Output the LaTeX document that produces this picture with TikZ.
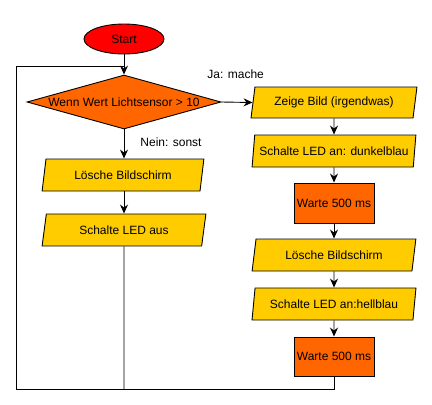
\documentclass[tikz,border=0pt]{standalone}
\usepackage{fontspec}
\setmainfont{Liberation Sans}
\usetikzlibrary{shapes.geometric,arrows.meta}
\definecolor{ioyel}{HTML}{FFCC00}
\definecolor{orng}{HTML}{FF6600}
\definecolor{startred}{HTML}{FF0000}
\begin{document}
\begin{tikzpicture}[x=1pt,y=-1pt,
  font=\fontsize{12}{14}\selectfont,
  line width=0.9pt,
  arr/.style={-{Stealth[length=9pt,width=8pt,inset=3pt]}},
  iobox/.style={trapezium, trapezium left angle=77, trapezium right angle=103,
    trapezium stretches=true, draw, fill=ioyel, minimum width=164, minimum height=32, inner sep=1pt},
  waitbox/.style={rectangle, draw, fill=orng, minimum width=80, minimum height=40, inner sep=1pt},
  decbox/.style={diamond, draw, fill=orng, aspect=3.6, minimum width=194, minimum height=54, inner sep=1pt},
  lbl/.style={anchor=west, inner sep=0pt}
]
\useasboundingbox (0,0) rectangle (432,405);
\node[ellipse, draw, fill=startred, minimum width=80, minimum height=30, inner sep=0pt] (start) at (124,39) {Start};
\node[decbox] (dec) at (124,102) {Wenn Wert Lichtsensor > 10};
\node[iobox, minimum width=162] (lbl1) at (123,175) {Lösche Bildschirm};
\node[iobox, minimum width=165] (aus) at (124,230) {Schalte LED aus};
\node[iobox, minimum width=166, minimum height=31] (zeige) at (334,102.5) {Zeige Bild (irgendwas)};
\node[iobox] (dunkel) at (334,151) {Schalte LED an: dunkelblau};
\node[waitbox] (w1) at (334,203) {Warte 500 ms};
\node[iobox] (lbl2) at (334,255) {Lösche Bildschirm};
\node[iobox] (hell) at (334,304) {Schalte LED an:hellblau};
\node[waitbox, minimum height=39] (w2) at (334,356.5) {Warte 500 ms};

\node[lbl] (ja) at (207,74) {Ja: mache};
\node[lbl] (nein) at (140,142) {Nein: sonst};

\coordinate (bl) at (16,389);
\coordinate (tl) at (16,66);
\coordinate (tj) at (124,66);
\coordinate (bm) at (124,389);

\draw[arr] (start) -- (dec);
\draw[arr] (dec.east) -- (zeige.west);
\draw[arr] (dec.south) -- (lbl1.north -| dec.south);
\draw[arr] (lbl1.south -| aus.north) -- (aus.north);
\draw (aus.south) -- (bm);
\draw[arr] (zeige) -- (dunkel);
\draw[arr] (dunkel) -- (w1);
\draw[arr] (w1) -- (lbl2);
\draw[arr] (lbl2) -- (hell);
\draw[arr] (hell) -- (w2);
\draw (w2.south) |- (bl) -- (tl) -- (tj);
\end{tikzpicture}
\end{document}
